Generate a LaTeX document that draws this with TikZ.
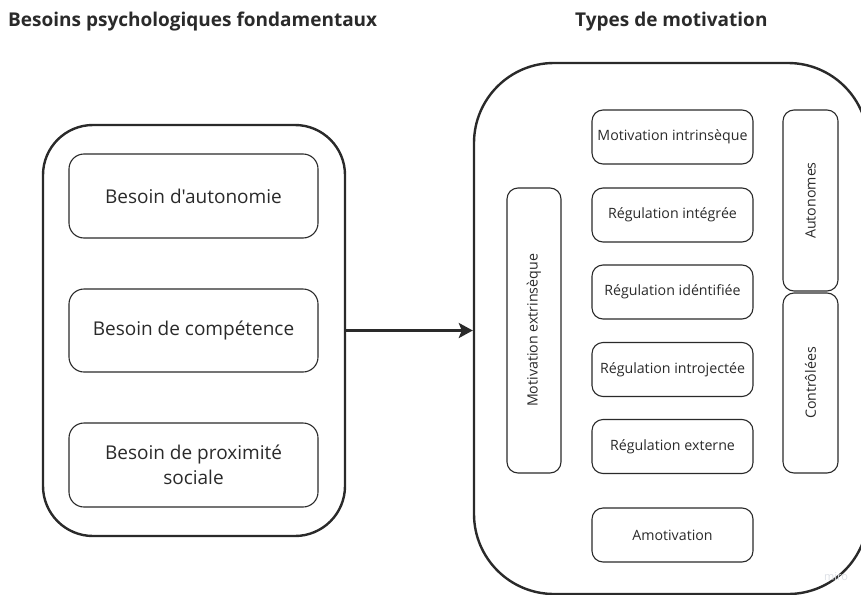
\documentclass[tikz,border=0pt]{standalone}
\usepackage{fontspec}
\setmainfont{Open Sans}[Ligatures=TeXOff]
\usetikzlibrary{arrows.meta}
\definecolor{ink}{HTML}{2A2A2A}
\definecolor{wm}{HTML}{DDE0E6}
\begin{document}
\begin{tikzpicture}[x=1pt,y=-1pt,
  outerbox/.style={draw=ink, line width=2.4pt, rounded corners=#1, inner sep=0pt},
  needbox/.style={draw=ink, line width=1.1pt, rounded corners=15pt, inner sep=0pt,
    text=ink, align=center, font=\fontsize{19}{25}\selectfont,
    minimum width=249pt, minimum height=84pt},
  typebox/.style={draw=ink, line width=1.1pt, rounded corners=11pt, inner sep=0pt,
    text=ink, align=center, font=\fontsize{14.2}{17}\selectfont,
    minimum width=161pt, minimum height=54pt},
  sidebox/.style={draw=ink, line width=1.1pt, rounded corners=11pt, inner sep=0pt,
    text=ink, align=center, font=\fontsize{14.2}{17}\selectfont, rotate=90,
    minimum height=55pt},
  title/.style={anchor=west, text=ink, font=\fontsize{19}{22}\selectfont\bfseries, inner sep=0pt},
  flow/.style={draw=ink, line width=3pt, -{Stealth[length=14pt,width=15pt,inset=3pt]}}
]
\useasboundingbox (0,0) rectangle (861,594);
\clip (0,0) rectangle (861,594);

\node[title] (t1) at (8,22) {Besoins psychologiques fondamentaux};
\node[title] (t2) at (575,22) {Types de motivation};

% left group
\node[outerbox=50pt, minimum width=302pt, minimum height=411pt] (needs) at (194,330.5) {};
\node[needbox] (n1) at (193.5,196) {Besoin d'autonomie};
\node[needbox, minimum height=83pt] (n2) at (193.5,330.5) {Besoin de compétence};
\node[needbox] (n3) at (193.5,465) {Besoin de proximité\\sociale};

% right group
\node[outerbox=80pt, minimum width=394pt, minimum height=531pt] (types) at (671,328.5) {};
\node[typebox] (m1) at (672.5,137) {Motivation intrinsèque};
\node[typebox] (m2) at (672.5,215) {Régulation intégrée};
\node[typebox] (m3) at (672.5,292) {Régulation idéntifiée};
\node[typebox] (m4) at (672.5,369.5) {Régulation introjectée};
\node[typebox] (m5) at (672.5,446.5) {Régulation externe};
\node[typebox] (m6) at (672.5,535) {Amotivation};

\node[sidebox, minimum width=285pt, minimum height=54pt] (ext) at (534,330.5) {Motivation extrinsèque};
\node[sidebox, minimum width=181pt] (aut) at (810.5,200.5) {Autonomes};
\node[sidebox, minimum width=180pt] (con) at (810.5,383) {Contrôlées};

\node[text=wm, font=\fontsize{11}{13}\selectfont, inner sep=0pt] (miro) at (836,577) {miro};

\draw[flow] (needs.east) -- (needs.east -| types.west);
\end{tikzpicture}
\end{document}
